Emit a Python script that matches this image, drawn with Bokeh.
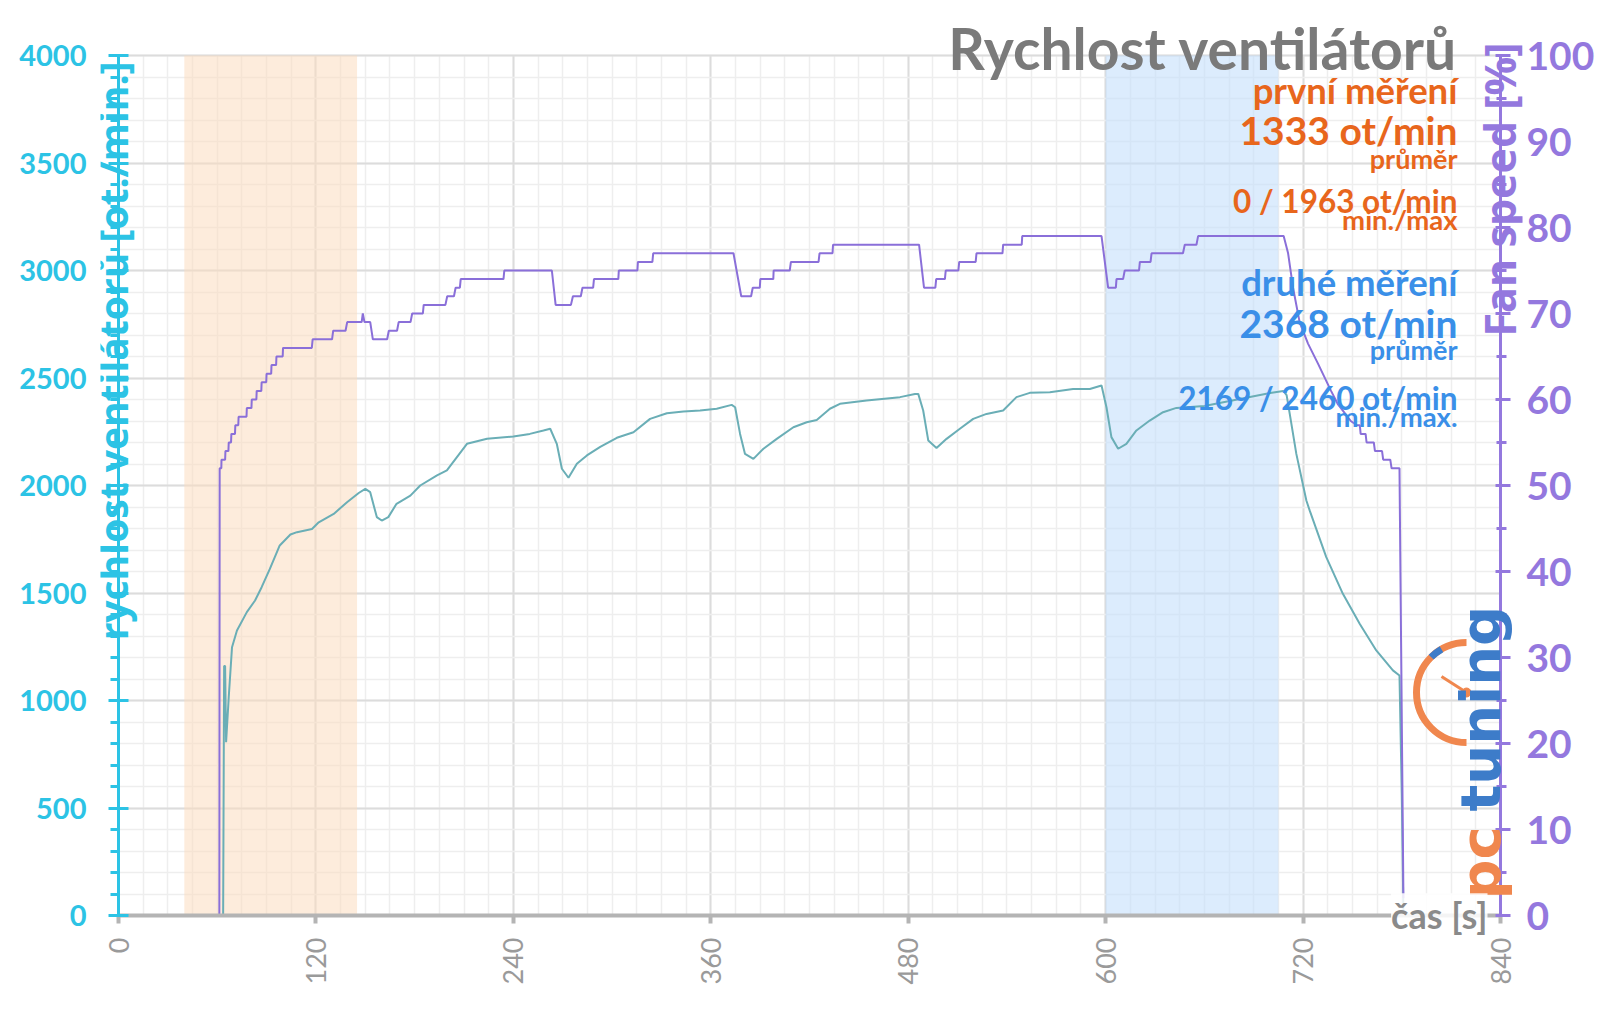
import math
from bokeh.plotting import figure
from bokeh.models import (Range1d, LinearAxis, SingleIntervalTicker, BoxAnnotation, Label, Grid)
from bokeh.embed import file_html
from bokeh.resources import INLINE

# ---------------- data ----------------
title = "Rychlost ventilátorů"
left_label = "rychlost ventilátorů [ot./min.]"
right_label = "Fan speed [%]"
x_label = "čas [s]"
x_ticks_interval = 120

first_band = [40, 145]
second_band = [600, 705]

first_stats = ["první měření", "1333 ot/min", "průměr", "0 / 1963 ot/min", "min./max"]
second_stats = ["druhé měření", "2368 ot/min", "průměr", "2169 / 2460 ot/min", "min./max."]

# fan speed [%] (purple, right axis)
fan_t = [0, 61.3, 61.5, 62.5, 62.6, 64.8, 65, 66.8, 67, 68.4, 68.6, 70.8, 71, 72.8, 73, 77.8, 78,
         80.8, 81, 83.8, 84, 86.8, 87, 89.8, 90, 92.8, 93, 95.8, 96, 99.8, 100, 117.5, 118, 129.8,
         130.5, 138, 139, 147.8, 148.5, 149.5, 153, 154.6, 163.3, 164.3, 169.3, 170.3, 177.5, 178.5,
         185, 185.5, 198.7, 199.8, 203.9, 204.9, 207.5, 208, 234, 234.5, 263.4, 265.7, 275, 276.2,
         281, 282, 288.5, 289, 303.8, 304.1, 315.4, 315.7, 324.5, 325, 373.8, 378.5, 384.5, 385.5,
         389.8, 390.1, 398, 398.2, 408, 408.7, 425.5, 426.1, 434, 434.3, 486.6, 489.6, 496.5, 497,
         502.3, 502.8, 510.5, 511, 521, 521.5, 537.3, 537.7, 549, 549.3, 597.5, 601.5, 606.2, 606.6,
         610.6, 611.6, 620.3, 620.8, 627.3, 627.9, 647, 648.1, 655.2, 656.2, 708.2, 710.9, 713.9,
         717.9, 723, 729, 733, 737, 741, 745, 749, 752.6, 754.5, 755, 758, 758.6, 763, 763.7, 768,
         768.7, 773, 773.8, 778.6, 781]
fan_pct = [0, 0, 52, 52, 53, 53, 54, 54, 55, 55, 56, 56, 57, 57, 58, 58, 59,
           59, 60, 60, 61, 61, 62, 62, 63, 63, 64, 64, 65, 65, 66, 66, 67, 67,
           68, 68, 69, 69, 70, 69, 69, 67, 67, 68, 68, 69, 69, 70,
           70, 71, 71, 72, 72, 73, 73, 74, 74, 75, 75, 71, 71, 72,
           72, 73, 73, 74, 74, 75, 75, 76, 76, 77, 77, 72, 72, 73,
           73, 74, 74, 75, 75, 76, 76, 77, 77, 78, 78, 73, 73, 74,
           74, 75, 75, 76, 76, 77, 77, 78, 78, 79, 79, 73, 73, 74,
           74, 75, 75, 76, 76, 77, 77, 78, 78, 79, 79, 77, 73,
           69, 66.5, 64.2, 62.6, 61, 59.5, 58.5, 57.5, 57, 57, 56, 56, 55, 55, 54, 54,
           53, 53, 52, 52, 2]

# fan speed [ot./min.] (teal, left axis)
rpm_t = [0, 63.6, 64.2, 64.8, 65.4, 67, 69, 72, 78, 83, 87, 92, 98, 104.5, 108.5, 117.6, 121.7,
         130.8, 138.9, 146, 150, 153, 157, 160, 164, 169, 177.4, 183.4, 193.6, 199.6, 205.7, 211.8,
         224, 240, 250, 258.3, 262.4, 266.4, 269.5, 273.5, 278.6, 284.7, 292.8, 302.9, 313, 323.1,
         333.3, 343.4, 353.5, 363.6, 372.7, 374.8, 377.8, 380.8, 385.9, 392, 400.1, 410.2, 418.3,
         424.4, 432.4, 438.5, 454.7, 475, 484.1, 486.1, 489.1, 492.2, 497.2, 503.3, 511.4, 519.5,
         527.6, 537.7, 545.8, 553.9, 566.1, 580.2, 590.4, 597.5, 600.5, 603.5, 607.6, 612.6, 618.7,
         626.8, 634.9, 643, 660, 680, 700, 708, 710, 711.9, 715.9, 722, 724, 734.1, 744.2, 754.4,
         764.5, 774.6, 778.6, 780, 781]
rpm_val = [0, 0, 1160, 1160, 806, 1015, 1248, 1326, 1411, 1465, 1527, 1612, 1721, 1772, 1783, 1798, 1829,
           1868, 1922, 1965, 1984, 1969, 1853, 1837, 1853, 1915, 1953, 2000, 2047, 2070, 2132, 2194,
           2217, 2228, 2240, 2256, 2264, 2194, 2078, 2036, 2101, 2140, 2180, 2222, 2248, 2310,
           2336, 2344, 2349, 2357, 2375, 2364, 2240, 2147, 2124, 2171, 2217, 2271, 2294,
           2305, 2357, 2380, 2395, 2411, 2426, 2426, 2349, 2209, 2174, 2217, 2264, 2310,
           2333, 2349, 2411, 2431, 2434, 2449, 2449, 2465, 2364, 2225, 2171, 2194, 2256,
           2302, 2341, 2361, 2370, 2400, 2430, 2440, 2420, 2333, 2147, 1930, 1884, 1667, 1496, 1357,
           1233, 1140, 1116, 560, 0]

# ---------------- styling ----------------
CYAN = "#2cc3e5"
PURPLE = "#9478de"
ORANGE = "#e8661c"
BLUE = "#3a8fe8"
GRAY_T = "#7a7a7a"
FONT = "Lato"

W, H = 1599, 1008
L, R, T, B = 100, 1522, 20, 937          # canvas px of the frame edges
AX0, AX1, AY0, AY1 = 118, 1500, 915, 55  # canvas px of x=0, x=840, y=0, y=4000
kx = (AX1 - AX0) / 840.0
ky = (AY0 - AY1) / 4000.0
kp = (AY0 - AY1) / 100.0
BASE = 0.31  # baseline correction (em)

p = figure(width=W, height=H, output_backend="svg", toolbar_location=None,
           x_range=Range1d((L - AX0) / kx, 840 + (R - AX1) / kx),
           y_range=Range1d(-(B - AY0) / ky, 4000 + (AY1 - T) / ky),
           min_border_left=L, min_border_right=W - R,
           min_border_top=T, min_border_bottom=H - B,
           x_axis_type=None, y_axis_type=None)
p.title.visible = False
p.outline_line_color = None
p.background_fill_color = "white"
p.extra_y_ranges = {"pct": Range1d(-(B - AY0) / kp, 100 + (AY1 - T) / kp)}


def dx(px):
    return (px - AX0) / kx


def dy(py):
    return (AY0 - py) / ky


def label(px, py, text, fs, **kw):
    return Label(x=px, y=py - BASE * fs, x_units="canvas", y_units="canvas", text=text,
                 text_font_size=f"{fs}px", text_baseline="alphabetic", **kw)


def vlabel(bx, py, text, fs, **kw):
    # rotated (reads bottom to top); bx = wanted baseline x
    return Label(x=bx - BASE * fs, y=py, x_units="canvas", y_units="canvas", text=text,
                 angle=math.pi / 2, text_font_size=f"{fs}px", text_baseline="alphabetic", **kw)


xticker = SingleIntervalTicker(interval=x_ticks_interval, num_minor_ticks=8)
yticker = SingleIntervalTicker(interval=500, num_minor_ticks=5)
pticker = SingleIntervalTicker(interval=10, num_minor_ticks=2)

xgrid = Grid(dimension=0, ticker=xticker, grid_line_color="#dcdcdc", grid_line_width=2,
             minor_grid_line_color="#eeeeee", minor_grid_line_width=1.5,
             bounds=(0, 840), cross_bounds=(0, 4000))
ygrid = Grid(dimension=1, ticker=yticker, grid_line_color="#dcdcdc", grid_line_width=2,
             minor_grid_line_color="#eeeeee", minor_grid_line_width=1.5,
             bounds=(0, 4000), cross_bounds=(0, 840))
p.add_layout(xgrid)
p.add_layout(ygrid)


def label_axis(ax, color, size, standoff, bold=True):
    # axis at the frame edge that only carries the tick labels
    ax.axis_line_color = None
    ax.major_tick_line_color = None
    ax.minor_tick_line_color = None
    ax.major_tick_out = 0
    ax.major_tick_in = 0
    ax.minor_tick_out = 0
    ax.minor_tick_in = 0
    ax.major_label_text_font = FONT
    ax.major_label_text_font_size = size
    ax.major_label_text_font_style = "bold" if bold else "normal"
    ax.major_label_text_color = color
    ax.major_label_standoff = standoff
    return ax


def line_axis(ax, color, width, t_in, t_out, m_in, m_out):
    # axis placed at the data position that carries the line and the ticks only
    ax.axis_line_color = color
    ax.axis_line_width = width
    ax.major_tick_line_color = color
    ax.major_tick_line_width = width
    ax.major_tick_in = t_in
    ax.major_tick_out = t_out
    if m_out or m_in:
        ax.minor_tick_line_color = color
        ax.minor_tick_line_width = width
        ax.minor_tick_in = m_in
        ax.minor_tick_out = m_out
    else:
        ax.minor_tick_line_color = None
        ax.minor_tick_out = 0
        ax.minor_tick_in = 0
    ax.major_label_text_font_size = "1px"
    ax.major_label_text_color = None
    ax.major_label_standoff = 0
    return ax


# x axis
xlab = label_axis(LinearAxis(ticker=xticker, bounds=(0, 840)), "#9a9a9a", "27px", 937 - B, bold=False)
xlab.major_label_orientation = math.pi / 2
p.add_layout(xlab, "below")
p.add_layout(line_axis(LinearAxis(ticker=xticker, fixed_location=0, bounds=(0, 840)),
                       "#b4b4b4", 4, 0, 8, 0, 0), "below")

# left axis
p.add_layout(label_axis(LinearAxis(ticker=yticker, bounds=(0, 4000)), CYAN, "29px", L - 86), "left")
p.add_layout(line_axis(LinearAxis(ticker=yticker, fixed_location=0, bounds=(0, 4000)),
                       CYAN, 3, 10, 10, 0, 8), "left")

# right axis
p.add_layout(label_axis(LinearAxis(ticker=pticker, y_range_name="pct", bounds=(0, 100)),
                        PURPLE, "39px", 1526 - R), "right")
p.add_layout(line_axis(LinearAxis(ticker=pticker, y_range_name="pct", fixed_location=840,
                                  bounds=(0, 100)), PURPLE, 3, 5, 10, 4, 6), "right")

p.add_layout(BoxAnnotation(left=first_band[0], right=first_band[1], bottom=0, top=4000,
                           fill_color="#fcdcc0", fill_alpha=0.55, line_color=None, level="underlay"))
p.add_layout(BoxAnnotation(left=second_band[0], right=second_band[1], bottom=0, top=4000,
                           fill_color="#c4e0fb", fill_alpha=0.6, line_color=None, level="underlay"))

p.line(rpm_t, rpm_val, line_color="#6aaeb6", line_width=2)
p.line(fan_t, fan_pct, line_color="#8a6fd9", line_width=2, y_range_name="pct")

# ---------------- logo ----------------
cx, cy = dx(1466), dy(692)
p.arc(x=[cx], y=[cy], radius=50, radius_units="screen", start_angle=math.pi / 2,
      end_angle=3 * math.pi / 2, direction="anticlock", line_color="#f0874e", line_width=7)
p.arc(x=[cx], y=[cy], radius=50, radius_units="screen", start_angle=math.radians(120),
      end_angle=math.radians(135), direction="anticlock", line_color="#3d7cc9", line_width=7)
p.segment(x0=[cx], y0=[cy], x1=[dx(1441)], y1=[dy(676)], line_color="#f0874e", line_width=3)
p.scatter(x=[cx], y=[cy], size=9, color="#f0874e")
p.add_layout(vlabel(1497, 899, "pc", 56, text_align="left", text_font="DejaVu Sans",
                    text_font_style="bold", text_color="#f0874e"))
p.add_layout(vlabel(1497, 811, "tuning", 56, text_align="left", text_font="DejaVu Sans",
                    text_font_style="bold", text_color="#3d7cc9"))

# ---------------- texts ----------------
p.add_layout(vlabel(124, 61, left_label, 39, text_align="right", text_font="Open Sans",
                    text_font_style="bold", text_color=CYAN))
p.add_layout(vlabel(1512, 42, right_label, 43, text_align="right", text_font="Open Sans",
                    text_font_style="bold", text_color=PURPLE))
p.add_layout(label(1487, 926, x_label, 36, text_align="right", text_font=FONT,
                   text_font_style="bold", text_color="#8a8a8a",
                   background_fill_color="white", background_fill_alpha=0.85))

p.add_layout(label(1457, 65, title, 57, text_align="right", text_font=FONT,
                   text_font_style="bold", text_color=GRAY_T))

sizes = [36.5, 39, 27, 31.5, 27.5]
first_base = [101, 142, 166, 210, 228]
second_base = [293, 335, 357, 407, 425]
for txt, sz, yb in zip(first_stats, sizes, first_base):
    p.add_layout(label(1457, yb, txt, sz, text_align="right", text_font=FONT,
                       text_font_style="bold", text_color=ORANGE))
for txt, sz, yb in zip(second_stats, sizes, second_base):
    p.add_layout(label(1457, yb, txt, sz, text_align="right", text_font=FONT,
                       text_font_style="bold", text_color=BLUE))

open("out.html", "w").write(file_html(p, INLINE))
